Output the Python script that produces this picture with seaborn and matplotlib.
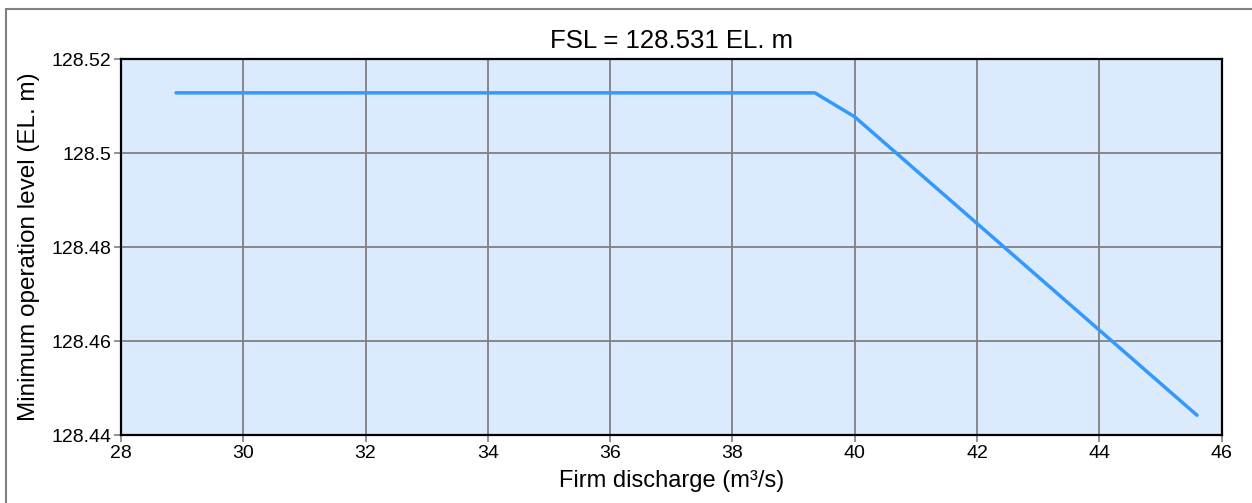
import matplotlib
matplotlib.use("Agg")
import matplotlib.pyplot as plt
import seaborn as sns
import pandas as pd
from matplotlib.lines import Line2D

# Data
discharge = [28.9, 39.35, 40.0, 45.6]
min_level = [128.5128, 128.5128, 128.5077, 128.4442]
x_ticks = [28, 30, 32, 34, 36, 38, 40, 42, 44, 46]
y_ticks = [128.44, 128.46, 128.48, 128.50, 128.52]
y_tick_labels = ["128.44", "128.46", "128.48", "128.5", "128.52"]

sns.set_theme(style="ticks")
plt.rcParams['font.family'] = ['Liberation Sans', 'DejaVu Sans']

W, H = 1252, 503
fig = plt.figure(figsize=(W / 100, H / 100), dpi=100)
ax = fig.add_axes([121 / W, 1 - 435 / H, (1221.5 - 121) / W, (435 - 59) / H])
ax.set_facecolor("#dbebfd")

df = pd.DataFrame({"x": discharge, "y": min_level})
sns.lineplot(data=df, x="x", y="y", ax=ax, color="#3399ff", linewidth=2.5,
             estimator=None, sort=False, zorder=3, solid_capstyle="round")

ax.set_xlim(28, 46)
ax.set_ylim(128.44, 128.52)
ax.set_xticks(x_ticks)
ax.set_xticklabels([str(t) for t in x_ticks])
ax.set_yticks(y_ticks)
ax.set_yticklabels(y_tick_labels)
ax.grid(True, color="#808080", linewidth=1.3, zorder=1)
ax.set_axisbelow(True)
for s in ax.spines.values():
    s.set_color("black")
    s.set_linewidth(1.6)
ax.tick_params(axis="both", colors="#808080", length=5, width=1.2,
               labelcolor="black", labelsize=14, pad=2, direction="out")

ax.set_title("FSL = 128.531 EL. m", fontsize=18.5, color="black", pad=8)
ax.set_xlabel("Firm discharge (m³/s)", fontsize=17, color="black", labelpad=6)
ax.set_ylabel("Minimum operation level (EL. m)", fontsize=17.5, color="black", labelpad=8)

# partial figure frame (top and left)
fig.add_artist(Line2D([6 / W, 6 / W], [0, 1 - 8.5 / H], transform=fig.transFigure,
                      color="#808080", linewidth=1.5))
fig.add_artist(Line2D([6 / W, 1], [1 - 8.5 / H, 1 - 8.5 / H], transform=fig.transFigure,
                      color="#808080", linewidth=1.5))

fig.savefig("out.png", dpi=100)
